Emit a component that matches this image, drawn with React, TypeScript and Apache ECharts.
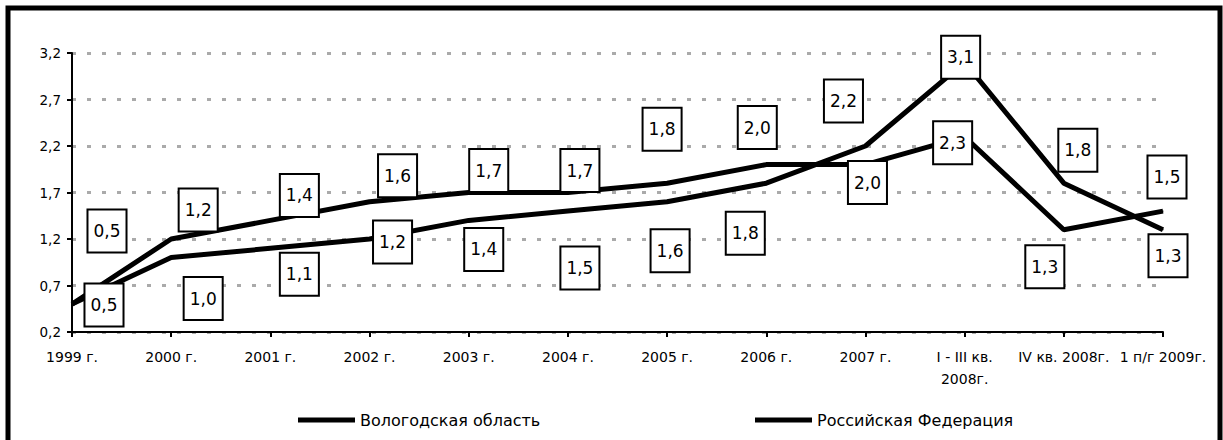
import React, { useEffect, useRef } from "react";
import * as echarts from "echarts";

const categories = [
  "1999 г.", "2000 г.", "2001 г.", "2002 г.", "2003 г.", "2004 г.", "2005 г.",
  "2006 г.", "2007 г.", "I - III кв.\n2008г.", "IV кв. 2008г.", "1 п/г 2009г.",
];
const seriesNames = ["Вологодская область", "Российская Федерация"];
const vologdaValues = [0.5, 1.2, 1.4, 1.6, 1.7, 1.7, 1.8, 2.0, 2.0, 2.3, 1.3, 1.5];
const russiaValues = [0.5, 1.0, 1.1, 1.2, 1.4, 1.5, 1.6, 1.8, 2.2, 3.1, 1.8, 1.3];
const yTicks = { min: 0.2, max: 3.2, interval: 0.5 };

// label box offsets from their points (layout only)
const vologdaLabelOffsets = [
  [35, -73], [27, -29], [29, -25], [28, -26], [20, -22], [12, -22],
  [-5, -54], [-9, -37], [2, 18], [-12, 6], [-19, 37], [4, -34],
];
const russiaLabelOffsets = [
  [32, 1], [32, 41], [29, 26], [23, 3], [15, 29], [12, 57],
  [3, 49], [-21, 50], [-22, -45], [-4, -5], [14, -33], [5, 26],
];

const FONT = "'DejaVu Sans', Verdana, sans-serif";

const fmt = (v: number) => v.toFixed(1).replace(".", ",");

function buildData(values: number[], offsets: number[][]) {
  return values.map((v, i) => ({
    value: v,
    label: { offset: offsets[i] },
  }));
}

const labelStyle = {
  show: true,
  position: "inside",
  formatter: (p: any) => fmt(p.value),
  color: "#000",
  fontFamily: FONT,
  fontSize: 17,
  lineHeight: 20,
  backgroundColor: "#fff",
  borderColor: "#000",
  borderWidth: 2,
  padding: [11, 5, 10, 5],
};

export default function App() {
  const ref = useRef<HTMLDivElement>(null);
  useEffect(() => {
    document.body.style.margin = "0";
    const chart = echarts.init(ref.current!, null, { renderer: "svg" });
    const legendCommon = {
      top: 407,
      itemWidth: 57,
      itemHeight: 5,
      icon: "rect",
      itemGap: 5,
      textStyle: { fontSize: 16, color: "#000", fontFamily: FONT },
      selectedMode: false,
    };
    chart.setOption({
      animation: false,
      backgroundColor: "#fff",
      textStyle: { fontFamily: FONT },
      grid: { left: 72, right: 60, top: 53, bottom: 108 },
      graphic: [
        {
          type: "rect",
          shape: { x: 8, y: 8, width: 1212, height: 470 },
          style: { fill: "none", stroke: "#000", lineWidth: 5 },
          z: 100,
          silent: true,
        },
      ],
      legend: [
        { ...legendCommon, data: [seriesNames[0]], left: 293 },
        { ...legendCommon, data: [seriesNames[1]], left: 750 },
      ],
      xAxis: {
        type: "category",
        data: categories,
        boundaryGap: false,
        axisLine: { lineStyle: { color: "#000", width: 2 } },
        axisTick: { show: true, length: 5, lineStyle: { color: "#000", width: 2 } },
        axisLabel: {
          color: "#000",
          fontSize: 14,
          lineHeight: 22,
          margin: 14,
          interval: 0,
          fontFamily: FONT,
        },
        splitLine: { show: false },
      },
      yAxis: {
        type: "value",
        min: yTicks.min,
        max: yTicks.max,
        interval: yTicks.interval,
        axisLine: { show: true, lineStyle: { color: "#000", width: 2 } },
        axisTick: { show: true, length: 5, lineStyle: { color: "#000", width: 2 } },
        axisLabel: {
          color: "#000",
          fontSize: 13.5,
          margin: 11,
          fontFamily: FONT,
          formatter: (v: number) => fmt(v),
        },
        splitLine: {
          show: true,
          lineStyle: { color: "#aaa", width: 3, type: [4, 11] },
        },
      },
      series: [
        {
          name: seriesNames[0],
          type: "line",
          data: buildData(vologdaValues, vologdaLabelOffsets),
          symbol: "circle",
          symbolSize: 1,
          showSymbol: true,
          lineStyle: { color: "#000", width: 5 },
          itemStyle: { color: "#000" },
          label: labelStyle,
          z: 3,
        },
        {
          name: seriesNames[1],
          type: "line",
          data: buildData(russiaValues, russiaLabelOffsets),
          symbol: "circle",
          symbolSize: 1,
          showSymbol: true,
          lineStyle: { color: "#000", width: 5 },
          itemStyle: { color: "#000" },
          label: labelStyle,
          z: 3,
        },
      ],
    });
    return () => chart.dispose();
  }, []);
  return (
    <div
      ref={ref}
      style={{ position: "absolute", left: 0, top: 0, width: 1223, height: 440 }}
    />
  );
}
